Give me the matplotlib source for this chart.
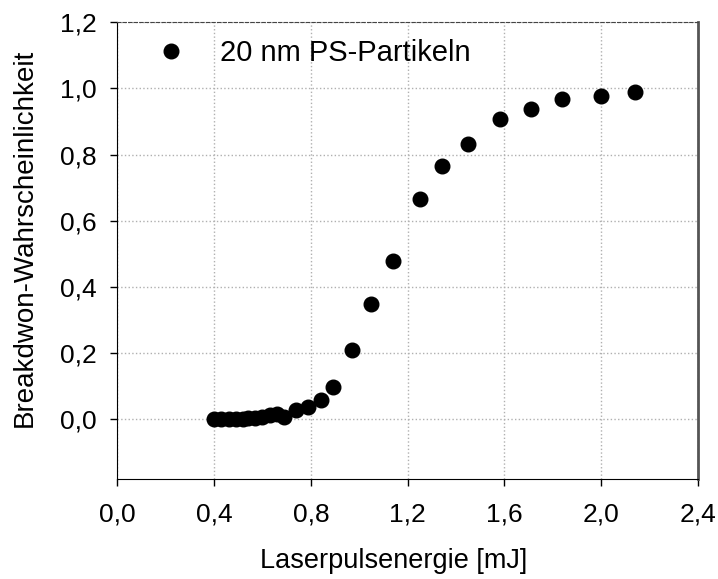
import matplotlib
matplotlib.use('Agg')
import matplotlib.pyplot as plt
from matplotlib.ticker import FuncFormatter

plt.rcParams['font.family'] = ['Liberation Sans', 'DejaVu Sans']

energie = [0.40, 0.43, 0.46, 0.49, 0.52, 0.54, 0.57, 0.60, 0.63, 0.66, 0.69,
           0.74, 0.79, 0.84, 0.89, 0.97, 1.05, 1.14, 1.25, 1.34, 1.45,
           1.58, 1.71, 1.84, 2.00, 2.14]
wahrsch = [0.000, 0.000, 0.000, 0.000, 0.002, 0.004, 0.003, 0.008, 0.012, 0.015, 0.008,
           0.029, 0.037, 0.060, 0.098, 0.209, 0.348, 0.479, 0.665, 0.766, 0.831,
           0.907, 0.939, 0.967, 0.977, 0.989]
label = '20 nm PS-Partikeln'

xticks = [0.0, 0.4, 0.8, 1.2, 1.6, 2.0, 2.4]
yticks = [0.0, 0.2, 0.4, 0.6, 0.8, 1.0, 1.2]


def komma(v, pos):
    return '{:.1f}'.format(v).replace('.', ',')


fig = plt.figure(figsize=(7.18, 5.79), dpi=100)
ax = fig.add_axes([0.1634, 0.1727, 0.8087, 0.7888])

ax.plot(energie, wahrsch, 'o', color='black', ms=10.5, label=label)

ax.set_xlim(0, 2.4)
ax.set_ylim(-0.18, 1.2)
ax.set_xticks(xticks)
ax.set_yticks(yticks)
ax.xaxis.set_major_formatter(FuncFormatter(komma))
ax.yaxis.set_major_formatter(FuncFormatter(komma))
ax.tick_params(direction='out', length=5, width=1, labelsize=19)
ax.tick_params(axis='x', pad=12)
ax.tick_params(axis='y', pad=10)

ax.grid(True, linestyle=':', color='#b0b0b0', linewidth=1)

ax.spines['top'].set_linestyle((0, (3, 2)))
ax.spines['top'].set_color('#444444')
ax.spines['right'].set_color('#555555')
ax.spines['right'].set_linewidth(2)

ax.set_xlabel('Laserpulsenergie [mJ]', fontsize=19.5)
ax.set_ylabel('Breakdwon-Wahrscheinlichkeit', fontsize=20)
ax.xaxis.set_label_coords(0.4765, -0.152)
ax.yaxis.set_label_coords(-0.137, 0.527)

ax.legend(loc='center left', bbox_to_anchor=(0.022, 0.932), frameon=False,
          fontsize=21, handlelength=2.0, handletextpad=0.68, borderaxespad=0)

plt.savefig('out.png', dpi=100)
